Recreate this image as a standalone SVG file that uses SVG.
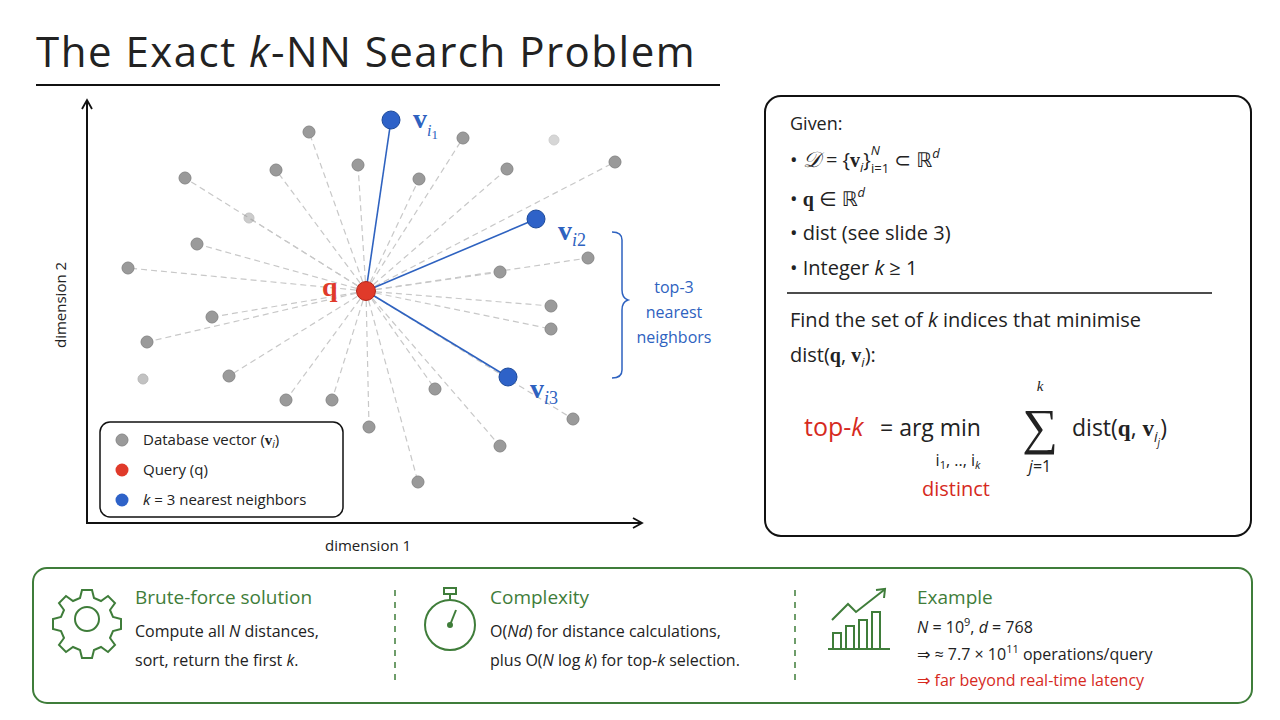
<svg xmlns="http://www.w3.org/2000/svg" width="1280" height="720" viewBox="0 0 1280 720">
<style>
.t{font-family:"Open Sans","DejaVu Sans",sans-serif;fill:#222}
.m{font-family:"Liberation Serif","DejaVu Serif",serif;fill:#222}
.g{fill:#9a9a9a;stroke:#888;stroke-width:1}
.sp{stroke:#c8c8c8;stroke-width:1.2;stroke-dasharray:6 4}
.bl{stroke:#2e62c0;stroke-width:1.6}
.gs{stroke:#3f7d3a;fill:none;stroke-width:2}
</style>
<defs><marker id="ah" viewBox="0 0 12 12" refX="10" refY="6" markerWidth="12" markerHeight="12" markerUnits="userSpaceOnUse" orient="auto"><path d="M1 1L10 6L1 11" fill="none" stroke="#111" stroke-width="1.8"/></marker></defs>
<rect width="1280" height="720" fill="#fff"/>
<text class="t" x="36" y="67" font-size="42" letter-spacing="1.5">The Exact <tspan font-style="italic">k</tspan>-NN Search Problem</text>
<line x1="36" y1="85" x2="720" y2="85" stroke="#111" stroke-width="2"/>
<g id="axes" stroke="#111" stroke-width="2" fill="none">
<line x1="87" y1="524" x2="87" y2="100" marker-end="url(#ah)"/>
<line x1="87" y1="523" x2="642" y2="523" marker-end="url(#ah)"/>
</g>
<text class="t" x="325" y="551" font-size="15">dimension 1</text>
<text class="t" font-size="15" transform="translate(66,348) rotate(-90)">dimension 2</text>
<g id="connectors">
<g class="sp">
<line x1="366" y1="291" x2="309" y2="132"/><line x1="366" y1="291" x2="463" y2="138"/><line x1="366" y1="291" x2="615" y2="162"/>
<line x1="366" y1="291" x2="185" y2="178"/><line x1="366" y1="291" x2="276" y2="170"/><line x1="366" y1="291" x2="358" y2="165"/>
<line x1="366" y1="291" x2="419" y2="179"/><line x1="366" y1="291" x2="507" y2="169"/><line x1="366" y1="291" x2="249" y2="218"/>
<line x1="366" y1="291" x2="197" y2="244"/><line x1="366" y1="291" x2="128" y2="268"/><line x1="366" y1="291" x2="588" y2="258"/>
<line x1="366" y1="291" x2="500" y2="272"/><line x1="366" y1="291" x2="551" y2="306"/><line x1="366" y1="291" x2="551" y2="329"/>
<line x1="366" y1="291" x2="212" y2="317"/><line x1="366" y1="291" x2="147" y2="342"/><line x1="366" y1="291" x2="229" y2="376"/>
<line x1="366" y1="291" x2="286" y2="400"/><line x1="366" y1="291" x2="332" y2="400"/><line x1="366" y1="291" x2="435" y2="389"/>
<line x1="366" y1="291" x2="369" y2="427"/><line x1="366" y1="291" x2="573" y2="419"/><line x1="366" y1="291" x2="500" y2="446"/>
<line x1="366" y1="291" x2="418" y2="482"/>
</g>
<line class="bl" x1="366" y1="291" x2="391" y2="120"/>
<line class="bl" x1="366" y1="291" x2="536" y2="219"/>
<line class="bl" x1="366" y1="291" x2="508" y2="377"/>
</g>
<g id="points">
<g class="g">
<circle cx="309" cy="132" r="6"/><circle cx="463" cy="138" r="6"/><circle cx="554" cy="140" r="5" opacity="0.4"/><circle cx="615" cy="162" r="6"/>
<circle cx="185" cy="178" r="6"/><circle cx="276" cy="170" r="6"/><circle cx="358" cy="165" r="6"/><circle cx="419" cy="179" r="6"/>
<circle cx="507" cy="169" r="6"/><circle cx="249" cy="218" r="5" opacity="0.5"/><circle cx="197" cy="244" r="6"/><circle cx="128" cy="268" r="6"/>
<circle cx="588" cy="258" r="6"/><circle cx="500" cy="272" r="6"/><circle cx="551" cy="306" r="6"/><circle cx="551" cy="329" r="6"/>
<circle cx="212" cy="317" r="6"/><circle cx="147" cy="342" r="6"/><circle cx="143" cy="379" r="5" opacity="0.6"/><circle cx="229" cy="376" r="6"/>
<circle cx="286" cy="400" r="6"/><circle cx="332" cy="400" r="6"/><circle cx="435" cy="389" r="6"/><circle cx="369" cy="427" r="6"/>
<circle cx="573" cy="419" r="6"/><circle cx="500" cy="446" r="6"/><circle cx="418" cy="482" r="6"/>
</g>
<g fill="#2e62c8" stroke="#1d4a9a"><circle cx="391" cy="120" r="9"/><circle cx="536" cy="219" r="9"/><circle cx="508" cy="377" r="9"/></g>
<circle cx="366" cy="291" r="9.5" fill="#e03a2a" stroke="#b02418"/>
</g>
<g id="labels" font-size="28" font-weight="bold">
<text class="m" x="413" y="128" style="fill:#2e62c0">v<tspan font-size="16" dy="8" font-style="italic" font-weight="normal">i</tspan><tspan font-size="13" dy="3" font-weight="normal">1</tspan></text>
<text class="m" x="558" y="240" style="fill:#2e62c0">v<tspan font-size="18" dy="6" font-style="italic" font-weight="normal">i</tspan><tspan font-size="18" font-weight="normal">2</tspan></text>
<text class="m" x="530" y="398" style="fill:#2e62c0">v<tspan font-size="18" dy="6" font-style="italic" font-weight="normal">i</tspan><tspan font-size="18" font-weight="normal">3</tspan></text>
<text class="m" x="322" y="296" style="fill:#e03a2a">q</text>
</g>
<g id="brace">
<path d="M612 232 Q622 232 622 240 L622 290 Q622 298 628 300 Q622 302 622 310 L622 370 Q622 378 612 378" fill="none" stroke="#2e62c0" stroke-width="1.5"/>
<text class="t" font-size="16" text-anchor="middle" style="fill:#2e62c0"><tspan x="674" y="293">top-3</tspan><tspan x="674" y="318">nearest</tspan><tspan x="674" y="343">neighbors</tspan></text>
</g>
<g id="legend">
<rect x="100" y="422" width="243" height="95" rx="10" fill="#fff" stroke="#111" stroke-width="1.5"/>
<circle cx="122" cy="440" r="6" class="g"/><circle cx="122" cy="470" r="6.5" fill="#e03a2a"/><circle cx="122" cy="500" r="6.5" fill="#2e62c8"/>
<text class="t" font-size="15" x="143" y="445">Database vector (<tspan font-family="Liberation Serif" font-weight="bold">v</tspan><tspan font-size="10" dy="3" font-style="italic">i</tspan><tspan dy="-3">)</tspan></text>
<text class="t" font-size="15" x="143" y="475">Query (q)</text>
<text class="t" font-size="15" x="143" y="505"><tspan font-style="italic">k</tspan> = 3 nearest neighbors</text>
</g>
<g id="defbox">
<rect x="765" y="96" width="486" height="440" rx="16" fill="#fff" stroke="#111" stroke-width="2"/>
<text class="t" font-size="18" x="790" y="130">Given:</text>
<g font-size="20">
<text class="t" x="790" y="167">•  <tspan class="m" font-size="22" font-style="italic">𝒟</tspan> = {<tspan class="m" font-weight="bold">v</tspan><tspan font-size="13" dy="5" font-style="italic">i</tspan><tspan dy="-5">}</tspan><tspan font-size="13" dy="-12" font-style="italic">N</tspan><tspan font-size="13" dx="-9" dy="18">i=1</tspan><tspan dy="-6"> ⊂ ℝ</tspan><tspan font-size="13" dy="-9" font-style="italic">d</tspan></text>
<text class="t" x="790" y="206">•  <tspan class="m" font-weight="bold">q</tspan> ∈ ℝ<tspan font-size="13" dy="-9" font-style="italic">d</tspan></text>
<text class="t" x="790" y="240">•  dist (see slide 3)</text>
<text class="t" x="790" y="275">•  Integer <tspan font-style="italic">k</tspan> ≥ 1</text>
</g>
<line x1="787" y1="293" x2="1212" y2="293" stroke="#111" stroke-width="1.5"/>
<text class="t" font-size="20" x="790" y="327">Find the set of <tspan font-style="italic">k</tspan> indices that minimise</text>
<text class="t" font-size="20" x="790" y="362">dist(<tspan class="m" font-weight="bold">q</tspan>, <tspan class="m" font-weight="bold">v</tspan><tspan font-size="13" dy="5" font-style="italic">i</tspan><tspan dy="-5">):</tspan></text>
<text class="t" font-size="25" x="804" y="436" style="fill:#d62a1e">top-<tspan font-style="italic">k</tspan></text>
<text class="t" font-size="23" x="880" y="436">= arg min</text>
<text class="t" font-size="16" x="958" y="466" text-anchor="middle">i<tspan font-size="11" dy="3">1</tspan><tspan dy="-3">, .., i</tspan><tspan font-size="11" dy="3" font-style="italic">k</tspan></text>
<text class="t" font-size="20" x="956" y="496" text-anchor="middle" style="fill:#d62a1e">distinct</text>
<text class="m" font-size="15" x="1040" y="391" text-anchor="middle" font-style="italic">k</text>
<text class="m" font-size="50" x="1040" y="444" text-anchor="middle">∑</text>
<text class="t" font-size="16" x="1040" y="472" text-anchor="middle"><tspan font-style="italic">j</tspan>=1</text>
<text class="t" font-size="23" x="1072" y="436">dist(<tspan class="m" font-weight="bold">q</tspan>, <tspan class="m" font-weight="bold">v</tspan><tspan font-size="14" dy="6" font-style="italic">i</tspan><tspan font-size="10" dy="4" font-style="italic">j</tspan><tspan dy="-10">)</tspan></text>
</g>
<g id="bottom">
<rect x="33" y="568" width="1219" height="135" rx="14" fill="#fff" stroke="#3f7d3a" stroke-width="2"/>
<line x1="395" y1="590" x2="395" y2="684" stroke="#3f7d3a" stroke-width="1.5" stroke-dasharray="6 6"/>
<line x1="795" y1="590" x2="795" y2="684" stroke="#3f7d3a" stroke-width="1.5" stroke-dasharray="6 6"/>
<g id="gear" class="gs">
<path d="M82 590 h10 l2 8 l7 3 l7 -5 l7 7 l-5 7 l3 7 l8 2 v10 l-8 2 l-3 7 l5 7 l-7 7 l-7 -5 l-7 3 l-2 8 h-10 l-2 -8 l-7 -3 l-7 5 l-7 -7 l5 -7 l-3 -7 l-8 -2 v-10 l8 -2 l3 -7 l-5 -7 l7 -7 l7 5 l7 -3 z"/>
<circle cx="87" cy="619" r="12"/>
</g>
<text class="t" font-size="19" x="135" y="604" style="fill:#3f7d3a">Brute-force solution</text>
<text class="t" font-size="16" x="135" y="637">Compute all <tspan font-style="italic">N</tspan> distances,</text>
<text class="t" font-size="16" x="135" y="666">sort, return the first <tspan font-style="italic">k</tspan>.</text>
<g id="watch" class="gs">
<circle cx="450" cy="625" r="25"/>
<line x1="450" y1="600" x2="450" y2="594"/><rect x="444" y="588" width="12" height="6"/>
<polyline points="450,625 456,610"/><circle cx="450" cy="625" r="2" fill="#3f7d3a"/>
</g>
<text class="t" font-size="19" x="490" y="604" style="fill:#3f7d3a">Complexity</text>
<text class="t" font-size="16" x="490" y="637">O(<tspan font-style="italic">Nd</tspan>) for distance calculations,</text>
<text class="t" font-size="16" x="490" y="666">plus O(<tspan font-style="italic">N</tspan> log <tspan font-style="italic">k</tspan>) for top-<tspan font-style="italic">k</tspan> selection.</text>
<g id="chart" class="gs">
<line x1="828" y1="649" x2="890" y2="649"/>
<rect x="833" y="633" width="8" height="16"/><rect x="846" y="626" width="8" height="23"/><rect x="859" y="620" width="8" height="29"/><rect x="872" y="612" width="8" height="37"/>
<polyline points="832,620 848,604 856,612 884,590"/><polyline points="876,590 885,589 884,598"/>
</g>
<text class="t" font-size="19" x="917" y="604" style="fill:#3f7d3a">Example</text>
<text class="t" font-size="16" x="917" y="633"><tspan font-style="italic">N</tspan> = 10<tspan font-size="11" dy="-7">9</tspan><tspan dy="7">, </tspan><tspan font-style="italic">d</tspan> = 768</text>
<text class="t" font-size="16" x="917" y="660">⇒ ≈ 7.7 × 10<tspan font-size="11" dy="-7">11</tspan><tspan dy="7"> operations/query</tspan></text>
<text class="t" font-size="16" x="917" y="686" style="fill:#d62a1e">⇒ far beyond real-time latency</text>
</g>
</svg>
